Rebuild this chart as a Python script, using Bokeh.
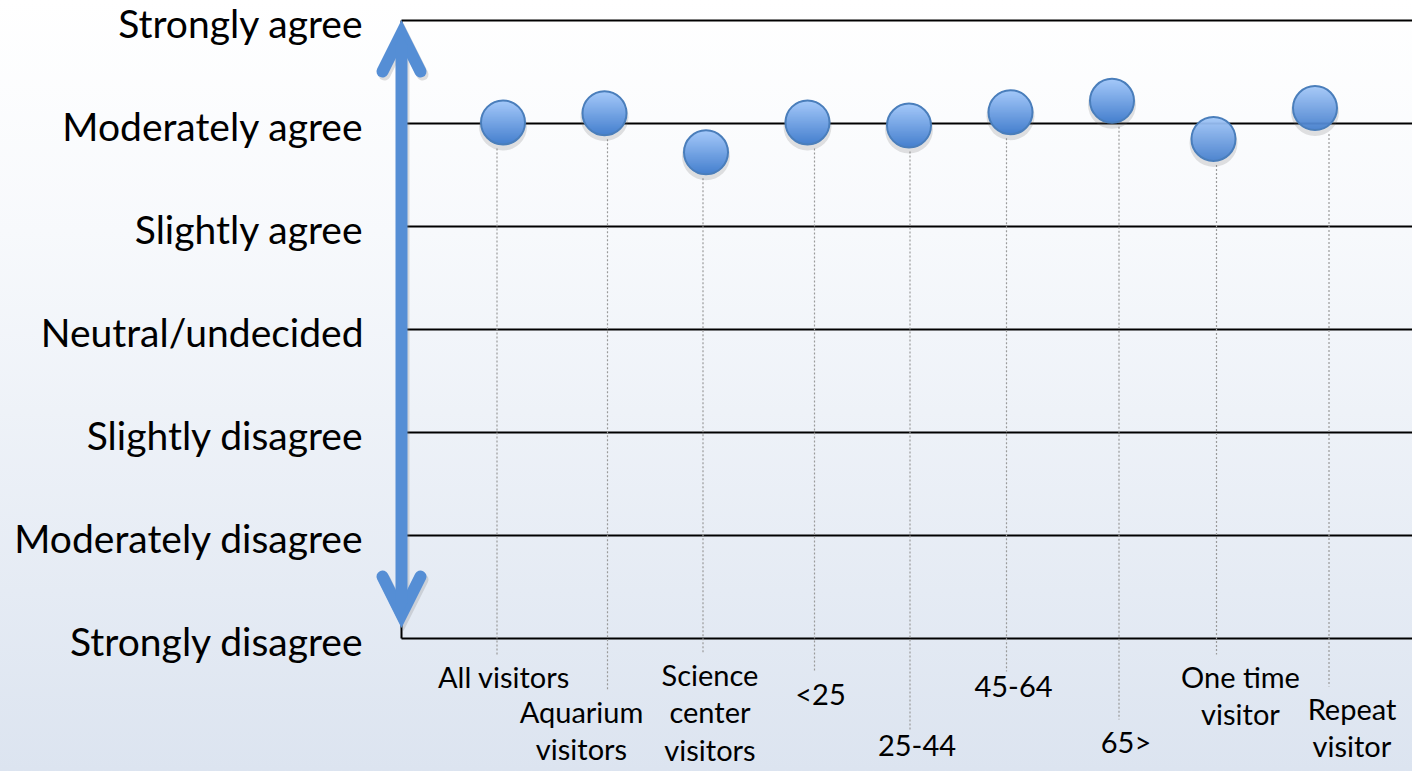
import numpy as np
from bokeh.plotting import figure
from bokeh.models import Range1d, ColumnDataSource, Arrow, OpenHead
from bokeh.core.properties import value
from bokeh.embed import file_html
from bokeh.resources import INLINE

# ---------------- data ----------------
levels = ["Strongly disagree", "Moderately disagree", "Slightly disagree",
          "Neutral/undecided", "Slightly agree", "Moderately agree", "Strongly agree"]
level_values = [1, 2, 3, 4, 5, 6, 7]
categories = ["All visitors", "Aquarium\nvisitors", "Science\ncenter\nvisitors", "<25",
              "25-44", "45-64", "65>", "One time\nvisitor", "Repeat\nvisitor"]
scores = [6.01, 6.10, 5.72, 6.01, 5.98, 6.11, 6.22, 5.85, 6.15]

# ---------------- layout ----------------
W, H = 1412, 771
PXX, PXY = 101.5, 103.0          # pixels per data unit
AXIS_PX = 401                     # pixel column of x = 0
TOP_PX = 20                       # pixel row of level 7
x_start = -AXIS_PX / PXX
x_end = x_start + W / PXX
y_end = 7 + TOP_PX / PXY
y_start = y_end - H / PXY

# per-category label layout (pixels)
label_dx = [1, -23, 4, 13, 8, 3, 14, 27, 37]      # label centre vs point
label_top = [20, 55, 18, 37, 96, 37, 85, 20, 52]  # label top below bottom line
leader_dx = [-6, 3, -3, 7, 1, -4, 7, 3, 14]       # leader line vs point
R = 22                                            # marker radius, px

BLUE = "#558ED5"
FONT = "Lato"

p = figure(width=W, height=H, output_backend="svg", toolbar_location=None,
           x_range=Range1d(x_start, x_end), y_range=Range1d(y_start, y_end),
           x_axis_type=None, y_axis_type=None, min_border=0)
p.grid.visible = False
p.outline_line_color = None
p.background_fill_alpha = 0
p.border_fill_alpha = 0
p.styles = {"background": "linear-gradient(#ffffff 0%, #f7f9fc 30%, #dce4f0 100%)"}

xs = [i + 1 for i in range(len(categories))]

# horizontal level lines
p.segment(x0=[0] * len(level_values), x1=[x_end] * len(level_values),
          y0=level_values, y1=level_values, line_color="black", line_width=2)
p.segment(x0=[0], x1=[0], y0=[level_values[0]], y1=[level_values[-1]],
          line_color="black", line_width=2)

# y labels
p.text(x=[0] * len(levels), y=level_values, text=levels, x_offset=-38, y_offset=2,
       text_align="right", text_baseline="middle", text_font=value(FONT),
       text_font_size="39px", text_color="black")

# leader lines
lx = [x + d / PXX for x, d in zip(xs, leader_dx)]
ly0 = [s - (R + 4) / PXY for s in scores]
ly1 = [1 - (t - 4) / PXY for t in label_top]
p.segment(x0=lx, x1=lx, y0=ly0, y1=ly1, line_color="#9a9a9a", line_width=1.2,
          line_dash="2 2")

# category labels
p.text(x=xs, y=[1] * len(xs), text=categories,
       x_offset=label_dx, y_offset=label_top,
       text_align="center", text_baseline="top", text_line_height=1.08,
       text_font=value(FONT), text_font_size="29px", text_color="black")

# arrow (shadow + main)
tip_top = 7 - 13 / PXY
tip_bot = 1 + 24 / PXY
for dx, dy, col, alpha in [(2, -3, "#7f7f7f", 0.25), (0, 0, BLUE, 1.0)]:
    hd = dict(size=38, line_width=12, line_color=col, line_alpha=alpha,
              line_join="miter", line_cap="round")
    p.add_layout(Arrow(start=OpenHead(**hd), end=OpenHead(**hd),
                       x_start=dx / PXX, x_end=dx / PXX,
                       y_start=tip_bot + dy / PXY, y_end=tip_top + dy / PXY,
                       line_width=12, line_color=col, line_alpha=alpha))

# marker shadows
p.scatter(x=xs, y=[s - 4 / PXY for s in scores], size=2 * R + 4,
          fill_color="#6f6f6f", fill_alpha=0.2, line_color=None)

# gradient-filled markers drawn as horizontal chords
top_c = np.array([166, 202, 250])
bot_c = np.array([70, 128, 206])
gx0, gx1, gy, gc = [], [], [], []
for x, s in zip(xs, scores):
    for j in range(-R, R + 1):
        half = np.sqrt(max(R * R - j * j, 0))
        t = (j + R) / (2 * R)
        c = (top_c * (1 - t) + bot_c * t).astype(int)
        gx0.append(x - half / PXX)
        gx1.append(x + half / PXX)
        gy.append(s - j / PXY)
        gc.append("#%02x%02x%02x" % tuple(c))
p.segment(x0=gx0, x1=gx1, y0=gy, y1=gy, line_color=gc, line_width=1.6)
p.scatter(x=xs, y=scores, size=2 * R, fill_alpha=0, line_color="#4a7ebb",
          line_width=2)

open("out.html", "w").write(file_html(p, INLINE))
